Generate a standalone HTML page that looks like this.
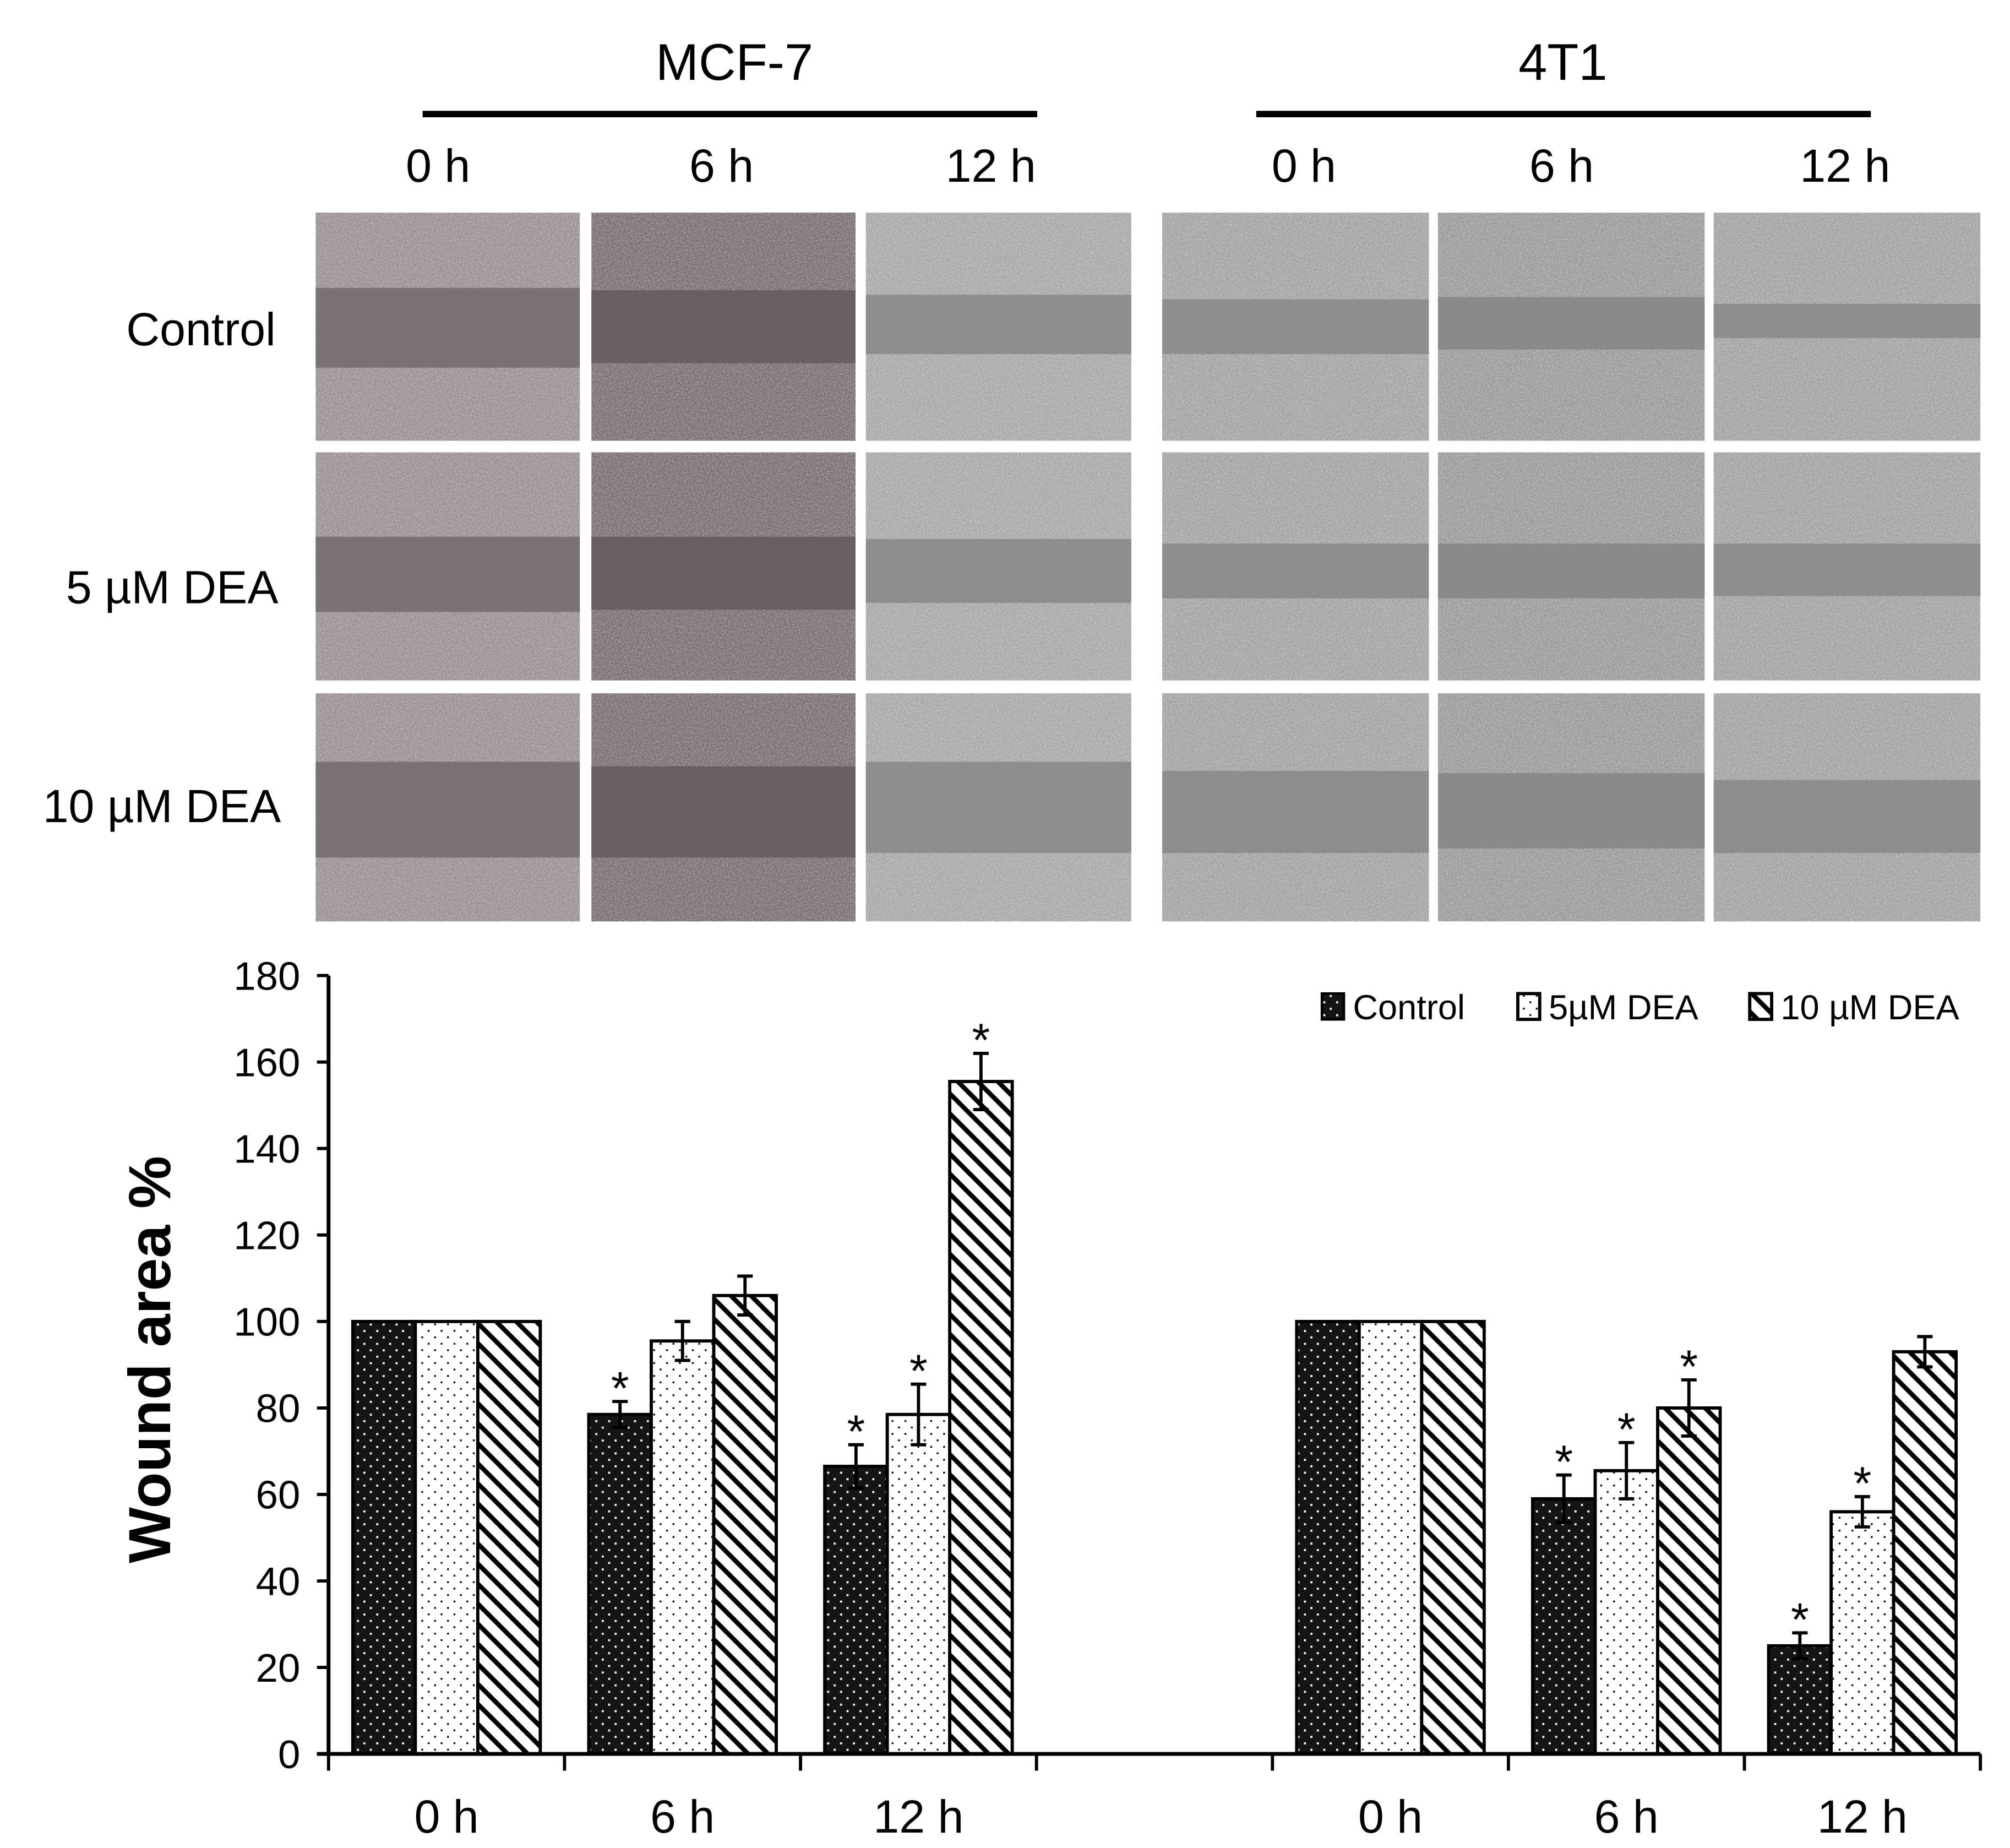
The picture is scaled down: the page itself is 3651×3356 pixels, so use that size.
<!DOCTYPE html>
<html><head><meta charset="utf-8">
<style>
html,body{margin:0;padding:0;background:#fff;}
svg{display:block;}
text{font-family:"Liberation Sans",Arial,sans-serif;fill:#000;}
</style></head>
<body>
<svg id="fig" width="3651" height="3356" viewBox="0 0 1560 1434" preserveAspectRatio="none" xmlns="http://www.w3.org/2000/svg">
<defs>
  <pattern id="pat-control" width="10" height="10" patternUnits="userSpaceOnUse">
    <rect width="10" height="10" fill="#151515"/>
    <rect x="2" y="2" width="1.6" height="1.6" fill="#fff"/>
    <rect x="7" y="7" width="1.6" height="1.6" fill="#fff"/>
  </pattern>
  <pattern id="pat-5" width="10" height="10" patternUnits="userSpaceOnUse">
    <rect width="10" height="10" fill="#fff"/>
    <rect x="2" y="2" width="1.4" height="1.4" fill="#000"/>
    <rect x="7" y="7" width="1.4" height="1.4" fill="#000"/>
  </pattern>
  <pattern id="pat-10" width="11" height="11" patternUnits="userSpaceOnUse" patternTransform="rotate(45)">
    <rect width="11" height="11" fill="#fff"/>
    <rect x="0" y="0" width="11" height="3.6" fill="#000"/>
  </pattern>
  <filter id="noise" x="0" y="0" width="100%" height="100%">
    <feTurbulence type="fractalNoise" baseFrequency="0.9" numOctaves="2" seed="3"/>
    <feColorMatrix type="matrix" values="0 0 0 0 1  0 0 0 0 1  0 0 0 0 1  0 0 0 1.6 -0.55"/>
  </filter>
</defs>

<!-- headers -->
<text x="570" y="62" font-size="40" text-anchor="middle">MCF-7</text>
<rect x="328" y="86" width="477" height="5" fill="#000"/>
<text x="1213" y="62" font-size="40" text-anchor="middle">4T1</text>
<rect x="975" y="86" width="477" height="5" fill="#000"/>
<g font-size="36" text-anchor="middle">
  <text x="340" y="141">0 h</text>
  <text x="560" y="141">6 h</text>
  <text x="769" y="141">12 h</text>
  <text x="1012" y="141">0 h</text>
  <text x="1212" y="141">6 h</text>
  <text x="1432" y="141">12 h</text>
</g>
<g font-size="36" text-anchor="end">
  <text x="214" y="268">Control</text>
  <text x="216" y="468">5 µM DEA</text>
  <text x="218" y="638">10 µM DEA</text>
</g>
<g id="panels"></g>

<!-- chart -->
<g id="chart"></g>
<text transform="translate(132,1055) rotate(-90)" font-size="46" font-weight="bold" text-anchor="middle">Wound area %</text>

<!-- legend -->
<g font-size="27">
  <g>
    <rect x="1026" y="771" width="17" height="20" fill="url(#pat-control)" stroke="#000" stroke-width="2"/>
    <text x="1050" y="791">Control</text>
  </g>
  <g>
    <rect x="1178" y="771" width="17" height="20" fill="url(#pat-5)" stroke="#000" stroke-width="2.5"/>
    <text x="1202" y="791">5µM DEA</text>
  </g>
  <g>
    <rect x="1358" y="771" width="17" height="20" fill="url(#pat-10)" stroke="#000" stroke-width="2.5"/>
    <text x="1382" y="791">10 µM DEA</text>
  </g>
</g>
</svg>
<script>
const NS = 'http://www.w3.org/2000/svg';
// ---- chart data ----
const categories = ['0 h', '6 h', '12 h', '', '0 h', '6 h', '12 h'];
const controlValues = [100, 78.5, 66.5, null, 100, 59, 25];
const dea5Values = [100, 95.5, 78.5, null, 100, 65.5, 56];
const dea10Values = [100, 106, 155.5, null, 100, 80, 93];
const controlErr = [0, 3, 5, null, 0, 5.5, 3];
const dea5Err = [0, 4.5, 7, null, 0, 6.5, 3.5];
const dea10Err = [0, 4.5, 6.5, null, 0, 6.5, 3.5];
const controlSig = [false, true, true, false, false, true, true];
const dea5Sig = [false, false, true, false, false, true, true];
const dea10Sig = [false, false, true, false, false, true, false];
const yTicks = [0, 20, 40, 60, 80, 100, 120, 140, 160, 180];

const X0 = 255, X1 = 1537, Y0 = 1361, Y1 = 757, YMAX = 180;
const slotW = (X1 - X0) / 7;
function yScale(v) { return Y0 - (v / YMAX) * (Y0 - Y1); }
function xCenter(i) { return X0 + slotW * (i + 0.5); }

function mk(tag, attrs, parent) {
  const e = document.createElementNS(NS, tag);
  for (const k in attrs) e.setAttribute(k, attrs[k]);
  parent.appendChild(e);
  return e;
}
const chart = document.getElementById('chart');

yTicks.forEach(t => {
  const y = yScale(t);
  const tk = mk('line', {x1: X0 - 9, x2: X0, y1: y, y2: y, stroke: '#000', 'stroke-width': 2.5}, chart);
  
  
  const lb = mk('text', {x: X0 - 22, y: y + 11, 'font-size': 31, 'text-anchor': 'end'}, chart);
  lb.textContent = t;
  
  
});

const series = [
  {vals: controlValues, err: controlErr, sig: controlSig, fill: 'url(#pat-control)', name: 'control'},
  {vals: dea5Values, err: dea5Err, sig: dea5Sig, fill: 'url(#pat-5)', name: '5um-dea'},
  {vals: dea10Values, err: dea10Err, sig: dea10Sig, fill: 'url(#pat-10)', name: '10um-dea'}
];
const barW = 48.5;
categories.forEach((c, i) => {
  series.forEach((s, k) => {
    const v = s.vals[i];
    if (v === null) return;
    const x = xCenter(i) + (k - 1.5) * barW;
    const y = yScale(v);
    const r = mk('rect', {x: x, y: y, width: barW, height: Y0 - y, fill: s.fill, stroke: '#000', 'stroke-width': 2.5}, chart);
    
    
    const e = s.err[i];
    const cx = x + barW / 2;
    if (e > 0) {
      const g = mk('g', {stroke: '#000', 'stroke-width': 2.5}, chart);
      
      
      mk('line', {x1: cx, x2: cx, y1: yScale(v + e), y2: yScale(v - e)}, g);
      mk('line', {x1: cx - 6, x2: cx + 6, y1: yScale(v + e), y2: yScale(v + e)}, g);
      mk('line', {x1: cx - 6, x2: cx + 6, y1: yScale(v - e), y2: yScale(v - e)}, g);
    }
    if (s.sig[i]) {
      const st = mk('text', {x: cx, y: yScale(v + e) + 2, 'font-size': 36, 'text-anchor': 'middle'}, chart);
      st.textContent = '*';
      
      
    }
  });
  if (c) {
    const lb = mk('text', {x: xCenter(i), y: 1422, 'font-size': 36, 'text-anchor': 'middle'}, chart);
    lb.textContent = c;
    
    
  }
});
for (let i = 0; i <= 7; i++) {
  const x = X0 + slotW * i;
  const tk = mk('line', {x1: x, x2: x, y1: Y0, y2: Y0 + 13, stroke: '#000', 'stroke-width': 2.5}, chart);
  
  
}
const ya = mk('line', {x1: X0, x2: X0, y1: Y1, y2: Y0, stroke: '#000', 'stroke-width': 3}, chart);


const xa = mk('line', {x1: X0 - 9, x2: X1, y1: Y0, y2: Y0, stroke: '#000', 'stroke-width': 3}, chart);



// ---- micrograph panels ----
const colX = [245, 459, 672, 902, 1116, 1330];
const colW = [205, 205, 206, 207, 207, 207];
const rowY = [165, 351, 538];
const rowH = 177;
const cellCol = ['#9b8f92', '#7a6f71', '#a8a6a6', '#a3a3a3', '#9a9a9a', '#a2a2a2'];
const gapCol  = ['#7c7173', '#6a5f61', '#8e8c8c', '#8d8d8d', '#8a8a8a', '#8e8e8e'];
const gapTop = [[0.33,0.34,0.36,0.38,0.37,0.40],[0.37,0.37,0.38,0.40,0.40,0.40],[0.30,0.32,0.30,0.34,0.35,0.38]];
const gapBot = [[0.68,0.66,0.62,0.62,0.60,0.55],[0.70,0.69,0.66,0.64,0.64,0.63],[0.72,0.72,0.70,0.70,0.68,0.70]];
const panels = document.getElementById('panels');
rowY.forEach((ry, r) => {
  colX.forEach((cx, c) => {
    const g = mk('g', {}, panels);
    
    
    mk('rect', {x: cx, y: ry, width: colW[c], height: rowH, fill: cellCol[c]}, g);
    mk('rect', {x: cx, y: ry, width: colW[c], height: rowH, filter: 'url(#noise)', opacity: 0.45}, g);
    const t = ry + rowH * gapTop[r][c], b = ry + rowH * gapBot[r][c];
    mk('rect', {x: cx, y: t, width: colW[c], height: b - t, fill: gapCol[c]}, g);
  });
});
</script>
</body></html>
